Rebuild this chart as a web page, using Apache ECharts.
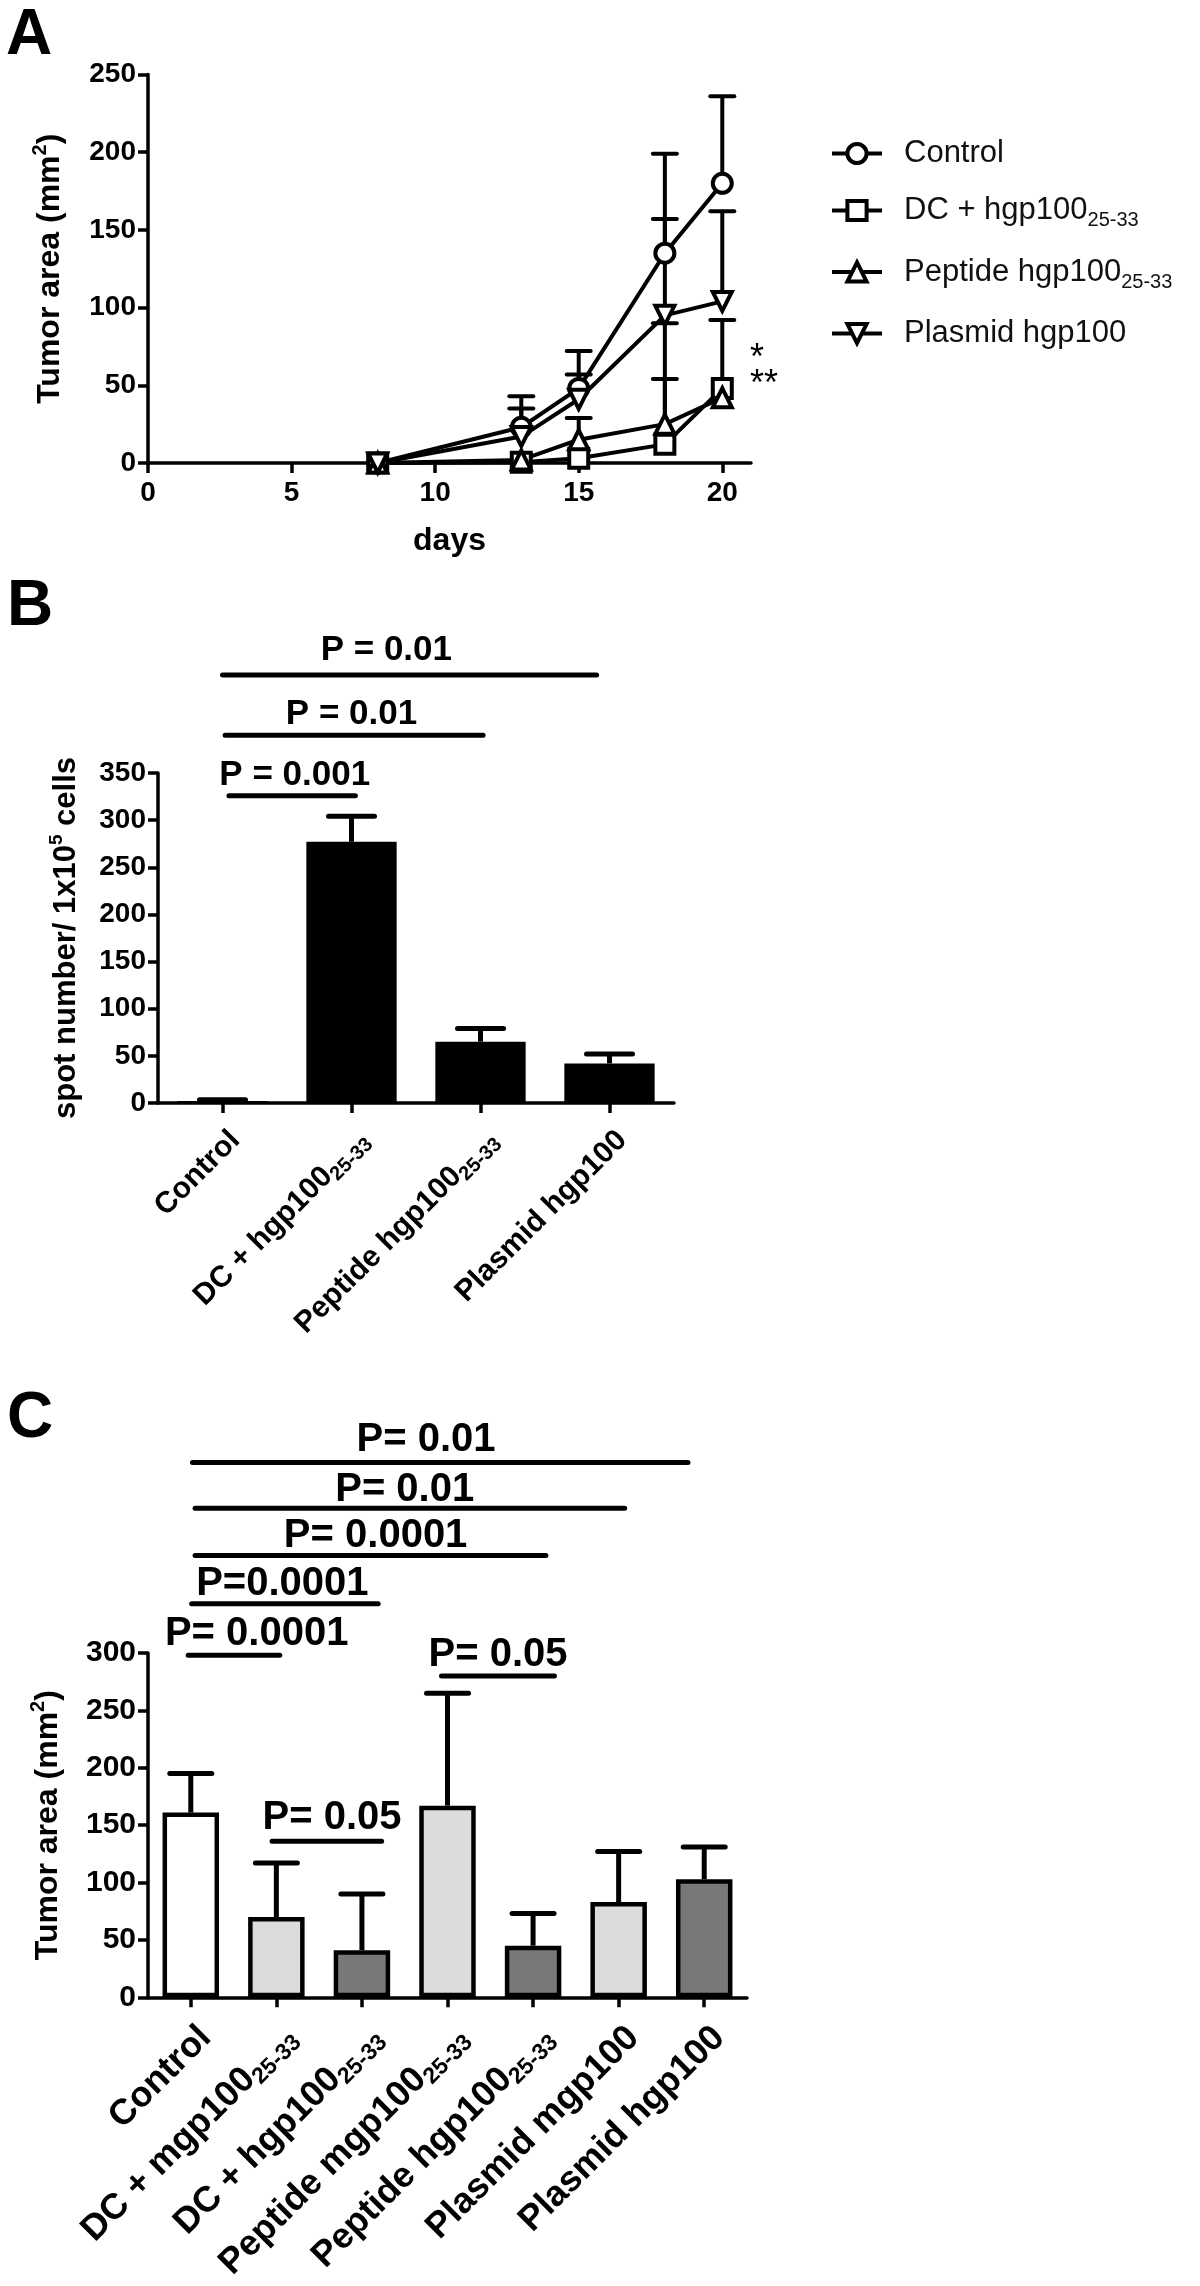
<!DOCTYPE html>
<html>
<head>
<meta charset="utf-8">
<script src="https://cdn.jsdelivr.net/npm/echarts@6/dist/echarts.min.js"></script>
<style>
  html, body { margin: 0; padding: 0; background: #fff; }
  #main { width: 1200px; height: 2286px; }
</style>
</head>
<body>
<div id="main"></div>
<script>
const FONT = '"Liberation Sans", Arial, Helvetica, sans-serif';

// ---- panel A: tumor growth curves
const days = [8, 13, 15, 18, 20];
const ctrlMean = [0, 23, 48, 135, 180];
const ctrlErr = [0, 20, 24, 64, 56];
const dcMean = [0, 0.5, 3, 12, 48];
const dcErr = [0, 0, 0, 78, 44];
const pepMean = [0, 2, 15, 25, 42];
const pepErr = [0, 0, 14, 29, 0];
const plaMean = [0, 17, 41, 95, 104];
const plaErr = [0, 18, 16, 62, 58];
const aNames = ['Control', 'DC + hgp100_25-33', 'Peptide hgp100_25-33', 'Plasmid hgp100'];
const aXTicks = [0, 5, 10, 15, 20];

// ---- panel B: spot numbers
const bCategories = ['Control', 'DC + hgp100_25-33', 'Peptide hgp100_25-33', 'Plasmid hgp100'];
const bMeans = [2, 277, 65, 42];
const bErr = [1.5, 27, 14, 10];
// significance bars (x in category units, y in axis units)
const bPLabels = ['P = 0.01', 'P = 0.01', 'P = 0.001'];
const bPFrom = [0, 0.02, 0.05];
const bPTo = [2.9, 2.02, 1.03];
const bPLineY = [454, 390, 326];
const bPTextX = [1.27, 1.0, 0.56];
const bPTextY = [480, 412, 348];

// ---- panel C: tumor area per group
const cCategories = ['Control', 'DC + mgp100_25-33', 'DC + hgp100_25-33', 'Peptide mgp100_25-33',
  'Peptide hgp100_25-33', 'Plasmid mgp100', 'Plasmid hgp100'];
const cMeans = [161, 70, 41, 167, 45, 83, 103];
const cErr = [34, 47, 49, 98, 28, 44, 28];
const cPLabels = ['P= 0.01', 'P= 0.01', 'P= 0.0001', 'P=0.0001', 'P= 0.0001', 'P= 0.05', 'P= 0.05'];
const cPFrom = [0.02, 0.05, 0.05, 0.01, -0.03, 2.93, 0.95];
const cPTo = [5.81, 5.07, 4.15, 2.19, 1.04, 4.25, 2.23];
const cPLineY = [466, 426, 385, 343, 298, 280, 136];
const cPTextX = [2.75, 2.5, 2.16, 1.07, 0.77, 3.59, 1.65];
const cPTextY = [486, 442, 402, 360, 317, 298, 156];

const cFills = ['#ffffff', '#dcdcdc', '#787878', '#dcdcdc', '#787878', '#dcdcdc', '#787878'];

// "name_sub" -> rich text with subscript
function richName(name) {
  const parts = name.split('_');
  return parts[1] ? '{m|' + parts[0] + '}{s|' + parts[1] + '}' : '{m|' + parts[0] + '}';
}

function catRich(fs, sfs) {
  return {
    m: { fontSize: fs, fontWeight: 'bold', fontFamily: FONT, color: '#000', lineHeight: fs + 6 },
    s: { fontSize: sfs, fontWeight: 'bold', fontFamily: FONT, color: '#000', lineHeight: sfs, verticalAlign: 'bottom' }
  };
}

function supName(fs) {
  return {
    m: { fontSize: fs, fontWeight: 'bold', fontFamily: FONT, color: '#000', lineHeight: fs + 8 },
    p: { fontSize: Math.round(fs * 0.62), fontWeight: 'bold', fontFamily: FONT, color: '#000', lineHeight: 20, verticalAlign: 'top' }
  };
}

const axisLineStyle = { show: true, onZero: false, lineStyle: { color: '#000', width: 3.5 } };
const tickStyle = { show: true, length: 10, lineStyle: { color: '#000', width: 3.5 } };
function numLabel(fs) {
  return { fontSize: fs, fontWeight: 'bold', fontFamily: FONT, color: '#000', margin: 12 };
}

function errorSeries(xi, yi, xs, means, errs, cap, lw) {
  return {
    type: 'custom', xAxisIndex: xi, yAxisIndex: yi, z: 3, silent: true,
    data: means.map((m, i) => [xs[i], m, errs[i]]),
    encode: { x: 0, y: 1 },
    renderItem: function (params, api) {
      const e = api.value(2);
      if (!e) return { type: 'group', children: [] };
      const p0 = api.coord([api.value(0), api.value(1)]);
      const p1 = api.coord([api.value(0), api.value(1) + e]);
      return {
        type: 'group', children: [
          { type: 'line', shape: { x1: p0[0], y1: p0[1], x2: p1[0], y2: p1[1] }, style: { stroke: '#000', lineWidth: lw } },
          { type: 'line', shape: { x1: p1[0] - cap, y1: p1[1], x2: p1[0] + cap, y2: p1[1] }, style: { stroke: '#000', lineWidth: lw, lineCap: 'round' } }
        ]
      };
    }
  };
}

function pSeries(xi, yi, labels, from, to, lineY, textX, textY, fs, lw) {
  return {
    type: 'custom', xAxisIndex: xi, yAxisIndex: yi, z: 5, silent: true, clip: false,
    data: labels.map((l, i) => [from[i], lineY[i]]),
    encode: { x: 0, y: 1 },
    renderItem: function (params, api) {
      const i = params.dataIndex;
      const a = api.coord([from[i], lineY[i]]);
      const b = api.coord([to[i], lineY[i]]);
      const t = api.coord([textX[i], textY[i]]);
      return {
        type: 'group', children: [
          { type: 'line', shape: { x1: a[0], y1: a[1], x2: b[0], y2: b[1] }, style: { stroke: '#000', lineWidth: lw, lineCap: 'round' } },
          { type: 'text', x: t[0], y: t[1], style: { text: labels[i], fill: '#000', font: 'bold ' + fs + 'px ' + FONT, align: 'center', verticalAlign: 'middle' } }
        ]
      };
    }
  };
}

// open markers drawn as white-filled symbols so the outline can be thick
function lineSeries(name, means, symbol, rotate) {
  return {
    type: 'line', name: name, xAxisIndex: 0, yAxisIndex: 0, z: 4,
    data: days.map((d, i) => [d, means[i]]),
    symbol: symbol, symbolSize: 19, symbolRotate: rotate || 0,
    lineStyle: { color: '#000', width: 4 },
    itemStyle: { color: '#fff', borderColor: '#000', borderWidth: 4 }
  };
}

const chart = echarts.init(document.getElementById('main'));

const option = {
  animation: false,
  backgroundColor: '#fff',
  grid: [
    { left: 148, top: 74.5, width: 603, height: 388.5 },
    { left: 158, top: 773, width: 516, height: 330 },
    { left: 148, top: 1653, width: 599, height: 380 }
  ],
  xAxis: [
    {
      type: 'value', gridIndex: 0, min: 0, max: 21,
      axisLine: axisLineStyle,
      axisTick: Object.assign({ customValues: aXTicks }, tickStyle),
      axisLabel: Object.assign({ customValues: aXTicks }, numLabel(28), { margin: 16 }),
      splitLine: { show: false },
      name: 'days', nameLocation: 'middle', nameGap: 62,
      nameTextStyle: { fontSize: 32, fontWeight: 'bold', fontFamily: FONT, color: '#000' }
    },
    {
      type: 'category', gridIndex: 1, data: bCategories,
      axisLine: axisLineStyle,
      axisTick: Object.assign({ alignWithLabel: true }, tickStyle),
      axisLabel: { interval: 0, rotate: 45, margin: 20, verticalAlign: 'top', formatter: richName, rich: catRich(30, 20) }
    },
    { type: 'value', gridIndex: 1, min: -0.5, max: 3.5, show: false },
    {
      type: 'category', gridIndex: 2, data: cCategories,
      axisLine: axisLineStyle,
      axisTick: Object.assign({ alignWithLabel: true }, tickStyle),
      axisLabel: { interval: 0, rotate: 45, margin: 20, verticalAlign: 'top', formatter: richName, rich: catRich(36, 23) }
    },
    { type: 'value', gridIndex: 2, min: -0.5, max: 6.5, show: false }
  ],
  yAxis: [
    {
      type: 'value', gridIndex: 0, min: 0, max: 250, interval: 50,
      axisLine: axisLineStyle, axisTick: tickStyle, axisLabel: numLabel(28),
      splitLine: { show: false },
      name: '{m|Tumor area (mm}{p|2}{m|)}', nameLocation: 'middle', nameGap: 78,
      nameTextStyle: { rich: supName(32) }
    },
    {
      type: 'value', gridIndex: 1, min: 0, max: 350, interval: 50,
      axisLine: axisLineStyle, axisTick: tickStyle, axisLabel: numLabel(28),
      splitLine: { show: false },
      name: '{m|spot number/ 1x10}{p|5}{m| cells}', nameLocation: 'middle', nameGap: 72,
      nameTextStyle: { rich: supName(31) }
    },
    {
      type: 'value', gridIndex: 2, min: 0, max: 300, interval: 50,
      axisLine: axisLineStyle, axisTick: tickStyle, axisLabel: numLabel(30),
      splitLine: { show: false },
      name: '{m|Tumor area (mm}{p|2}{m|)}', nameLocation: 'middle', nameGap: 80,
      nameTextStyle: { rich: supName(32) }
    }
  ],
  legend: {
    orient: 'vertical', left: 825, top: 133,
    itemWidth: 50, itemHeight: 24, itemGap: 26,
    selectedMode: false,
    data: aNames,
    formatter: richName,
    itemStyle: { color: '#fff', borderColor: '#000', borderWidth: 4 },
    lineStyle: { color: '#000', width: 4 },
    textStyle: {
      padding: [0, 0, 0, 17],
      rich: {
        m: { fontSize: 31, fontFamily: FONT, color: '#111', lineHeight: 40 },
        s: { fontSize: 20, fontFamily: FONT, color: '#111', lineHeight: 20, verticalAlign: 'bottom' }
      }
    }
  },
  graphic: [
    { type: 'text', style: { x: 29, y: 36, text: 'A', font: 'bold 64px ' + FONT, fill: '#000', align: 'center', verticalAlign: 'middle' } },
    { type: 'text', style: { x: 30, y: 607, text: 'B', font: 'bold 64px ' + FONT, fill: '#000', align: 'center', verticalAlign: 'middle' } },
    { type: 'text', style: { x: 30, y: 1419, text: 'C', font: 'bold 64px ' + FONT, fill: '#000', align: 'center', verticalAlign: 'middle' } },
    { type: 'text', style: { x: 750, y: 359, text: '*', font: '36px ' + FONT, fill: '#000', align: 'left', verticalAlign: 'middle' } },
    { type: 'text', style: { x: 750, y: 385, text: '**', font: '36px ' + FONT, fill: '#000', align: 'left', verticalAlign: 'middle' } }
  ],
  series: [
    errorSeries(0, 0, days, ctrlMean, ctrlErr, 12, 4),
    errorSeries(0, 0, days, dcMean, dcErr, 12, 4),
    errorSeries(0, 0, days, pepMean, pepErr, 12, 4),
    errorSeries(0, 0, days, plaMean, plaErr, 12, 4),
    lineSeries(aNames[0], ctrlMean, 'circle'),
    lineSeries(aNames[1], dcMean, 'rect'),
    lineSeries(aNames[2], pepMean, 'triangle'),
    lineSeries(aNames[3], plaMean, 'triangle', 180),

    {
      type: 'bar', xAxisIndex: 1, yAxisIndex: 1, barWidth: '70%', z: 2,
      data: bMeans, itemStyle: { color: '#000' }
    },
    errorSeries(1, 1, [0, 1, 2, 3], bMeans, bErr, 23, 5),
    pSeries(2, 1, bPLabels, bPFrom, bPTo, bPLineY, bPTextX, bPTextY, 35, 5),

    {
      type: 'bar', xAxisIndex: 3, yAxisIndex: 2, barWidth: '66%', z: 2,
      data: cMeans.map((v, i) => ({ value: v, itemStyle: { color: cFills[i] } })),
      itemStyle: { borderColor: '#000', borderWidth: 4.5 }
    },
    errorSeries(3, 2, [0, 1, 2, 3, 4, 5, 6], cMeans, cErr, 21, 5),
    pSeries(4, 2, cPLabels, cPFrom, cPTo, cPLineY, cPTextX, cPTextY, 40, 5)
  ]
};

chart.setOption(option);
window.addEventListener('resize', function () {
  chart.resize();
});
</script>
</body>
</html>
